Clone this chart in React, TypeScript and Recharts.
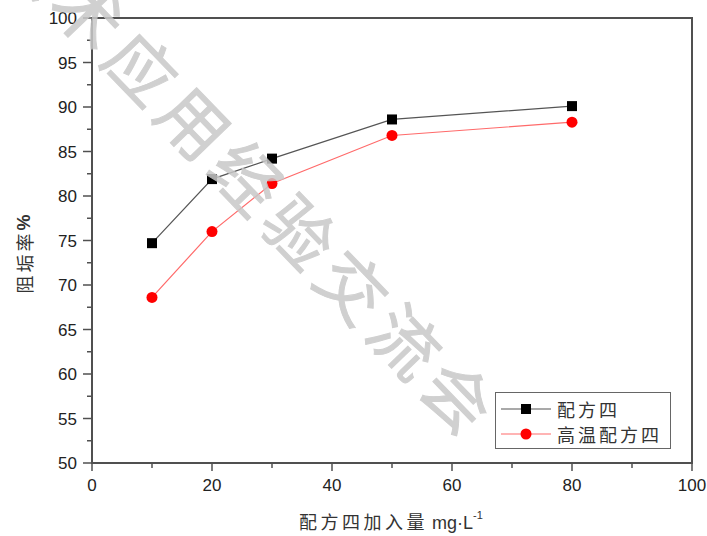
import React from "react";
import {
  LineChart,
  Line,
  XAxis,
  YAxis,
  Legend,
  ReferenceArea,
} from "recharts";

const doses = [10, 20, 30, 50, 80];
const formula4 = [74.7, 81.9, 84.2, 88.6, 90.1];
const hotFormula4 = [68.6, 76.0, 81.4, 86.8, 88.3];

const xTicks = [0, 10, 20, 30, 40, 50, 60, 70, 80, 90, 100];
const yTicks = [50, 52.5, 55, 57.5, 60, 62.5, 65, 67.5, 70, 72.5, 75, 77.5, 80, 82.5, 85, 87.5, 90, 92.5, 95, 97.5, 100];

const SERIES = [
  { key: "formula4", name: "配方四", line: "#555555", mark: "#000000", shape: "square" },
  { key: "hotFormula4", name: "高温配方四", line: "#ff6a6a", mark: "#ff0000", shape: "circle" },
];

const chartData = doses.map((d, i) => ({
  dose: d,
  formula4: formula4[i],
  hotFormula4: hotFormula4[i],
}));

const AXIS = "#505050";
const NUM_FONT = "'Liberation Sans', Arial, sans-serif";
const CJK_FONT = "'Noto Sans CJK SC', 'Liberation Sans', sans-serif";

function XTick(props: any) {
  const { x, y, payload } = props;
  const major = payload.value % 20 === 0;
  return (
    <g>
      <line x1={x} x2={x} y1={y} y2={y + (major ? 8 : 5)} stroke={AXIS} strokeWidth={1.5} />
      {major && (
        <text x={x} y={y + 28} textAnchor="middle" fontSize={17} fill="#222" fontFamily={NUM_FONT}>
          {payload.value}
        </text>
      )}
    </g>
  );
}

function YTick(props: any) {
  const { x, y, payload } = props;
  const major = payload.value % 5 === 0;
  return (
    <g>
      <line x1={x} x2={x - (major ? 9 : 5)} y1={y} y2={y} stroke={AXIS} strokeWidth={1.5} />
      {major && (
        <text x={x - 15} y={y + 6} textAnchor="end" fontSize={17} fill="#222" fontFamily={NUM_FONT}>
          {payload.value}
        </text>
      )}
    </g>
  );
}

function SquareDot(props: any) {
  const { cx, cy, index } = props;
  return <rect key={`sq-${index}`} x={cx - 5} y={cy - 5} width={10} height={10} fill="#000" />;
}

function CircleDot(props: any) {
  const { cx, cy, index } = props;
  return <circle key={`ci-${index}`} cx={cx} cy={cy} r={5.5} fill="#ff0000" />;
}

function LegendBox() {
  return (
    <div
      style={{
        border: "1.5px solid #666",
        background: "#fff",
        padding: "3px 0 3px 4px",
        boxSizing: "border-box",
        width: 176,
        height: 57,
      }}
    >
      {SERIES.map((s) => (
        <div key={s.key} style={{ display: "flex", alignItems: "center", height: 25 }}>
          <svg width={52} height={14}>
            <line x1={1} x2={51} y1={7} y2={7} stroke={s.line} strokeWidth={1.2} />
            {s.shape === "square" ? (
              <rect x={21} y={2} width={10} height={10} fill={s.mark} />
            ) : (
              <circle cx={26} cy={7} r={5.5} fill={s.mark} />
            )}
          </svg>
          <span
            style={{
              fontFamily: CJK_FONT,
              fontSize: 18,
              letterSpacing: 3,
              color: "#333",
              marginLeft: 5,
              lineHeight: "20px",
            }}
          >
            {s.name}
          </span>
        </div>
      ))}
    </div>
  );
}

// diagonal watermark lying over the plot, partly off the top-left edge
function Watermark() {
  return (
    <svg
      width={707}
      height={536}
      style={{ position: "absolute", left: 0, top: 0, pointerEvents: "none" }}
    >
      <text
        x={-6.6}
        y={-47.6}
        transform="rotate(46 -6.6 -47.6)"
        fontSize={68}
        letterSpacing={8}
        fill="#c8c8c8"
        stroke="#c8c8c8"
        strokeWidth={1}
        opacity={0.85}
        fontFamily={CJK_FONT}
      >
        技术应用经验交流会
      </text>
    </svg>
  );
}

export default function App() {
  return (
    <div style={{ position: "absolute", left: 0, top: 0, width: 707, height: 536, background: "#fff" }}>
      <LineChart
        width={707}
        height={536}
        data={chartData}
        margin={{ top: 18, right: 15, bottom: 43, left: 32 }}
      >
        <ReferenceArea
          x1={0}
          x2={100}
          y1={50}
          y2={100}
          fill="none"
          stroke={AXIS}
          strokeWidth={2}
          ifOverflow="visible"
        />
        <XAxis
          dataKey="dose"
          type="number"
          domain={[0, 100]}
          ticks={xTicks}
          interval={0}
          tickSize={0}
          tickMargin={0}
          tick={<XTick />}
          axisLine={{ stroke: AXIS, strokeWidth: 2 }}
          tickLine={false}
          height={30}
          label={() => (
            <text
              x={391}
              y={529}
              textAnchor="middle"
              fontSize={18}
              fill="#333"
              fontFamily={CJK_FONT}
              letterSpacing={3.5}
            >
              配方四加入量
              <tspan fontFamily={NUM_FONT} letterSpacing={0} dx={4}>mg·L</tspan>
              <tspan fontFamily={NUM_FONT} letterSpacing={0} fontSize={11} dy={-10}>-1</tspan>
            </text>
          )}
        />
        <YAxis
          type="number"
          domain={[50, 100]}
          ticks={yTicks}
          interval={0}
          tickSize={0}
          tickMargin={0}
          tick={<YTick />}
          axisLine={{ stroke: AXIS, strokeWidth: 2 }}
          tickLine={false}
          width={60}
          label={() => (
            <text
              x={24}
              y={254}
              textAnchor="middle"
              fontSize={18}
              fill="#333"
              fontFamily={CJK_FONT}
              letterSpacing={3}
              transform="rotate(-90 24 254)"
              dominantBaseline="central"
            >
              阻垢率
              <tspan fontFamily={NUM_FONT} fontWeight="bold" letterSpacing={0}>%</tspan>
            </text>
          )}
        />
        <Legend
          verticalAlign="middle"
          align="center"
          layout="horizontal"
          content={() => <LegendBox />}
          wrapperStyle={{ left: 495, top: 392, width: 176, height: 57 }}
        />
        <Line
          dataKey="formula4"
          name="配方四"
          stroke="#555555"
          strokeWidth={1.2}
          dot={<SquareDot />}
          activeDot={false}
          isAnimationActive={false}
        />
        <Line
          dataKey="hotFormula4"
          name="高温配方四"
          stroke="#ff6a6a"
          strokeWidth={1.2}
          dot={<CircleDot />}
          activeDot={false}
          isAnimationActive={false}
        />
      </LineChart>
      <Watermark />
    </div>
  );
}
